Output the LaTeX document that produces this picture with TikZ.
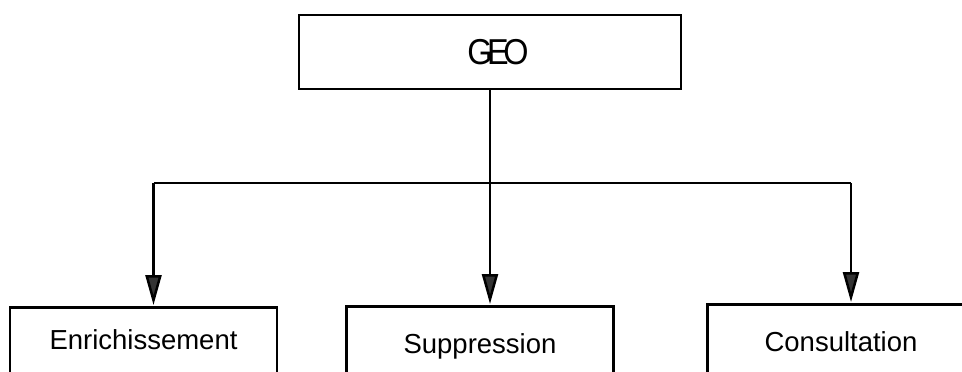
\documentclass[tikz,border=0pt]{standalone}
\usepackage{fontspec}
\setmainfont{Liberation Sans}
\usetikzlibrary{arrows.meta,calc}
\begin{document}
\begin{tikzpicture}[x=1pt,y=-1pt,
  box/.style={draw=black, line width=2.6pt, fill=white, rectangle, inner sep=0pt,
    minimum width=267pt, minimum height=70pt, anchor=north,
    text height=20pt, text depth=6pt,
    font=\fontsize{27.5}{30}\selectfont},
  lowtext/.style={text height=25pt, text depth=1pt},
  wire/.style={draw=black, line width=2.5pt},
  arrow/.style={wire, -{Triangle[length=30pt,width=16pt,fill=black!80]}, shorten >=1pt}]
  \useasboundingbox (0,0) rectangle (962,372);

  % top process box
  \node[draw=black, line width=2.8pt, rectangle, inner sep=0pt,
        minimum width=382pt, minimum height=74pt,
        font=\fontsize{36}{38}\selectfont] (geo) at (490,52)
        {\hspace*{16pt}\scalebox{0.9}[1]{G\kern-6pt E\kern-6pt O}};

  % sub-processes
  \node[box] (b1) at (143.5,306) {Enrichissement};
  \node[box, lowtext] (b2) at (480,305) {Suppression};
  \node[box, lowtext] (b3) at (841,303) {Consultation};

  % distribution bar
  \coordinate (hub) at (0,183);
  \draw[wire] ([xshift=10pt]b1.north |- hub) -- ([xshift=10pt]b3.north |- hub);
  \draw[arrow] (geo.south) -- (geo.south |- b2.north);
  \draw[arrow] ([xshift=10pt]b1.north |- hub) -- ([xshift=10pt]b1.north);
  \draw[arrow] ([xshift=10pt]b3.north |- hub) -- ([xshift=10pt]b3.north);
\end{tikzpicture}
\end{document}
